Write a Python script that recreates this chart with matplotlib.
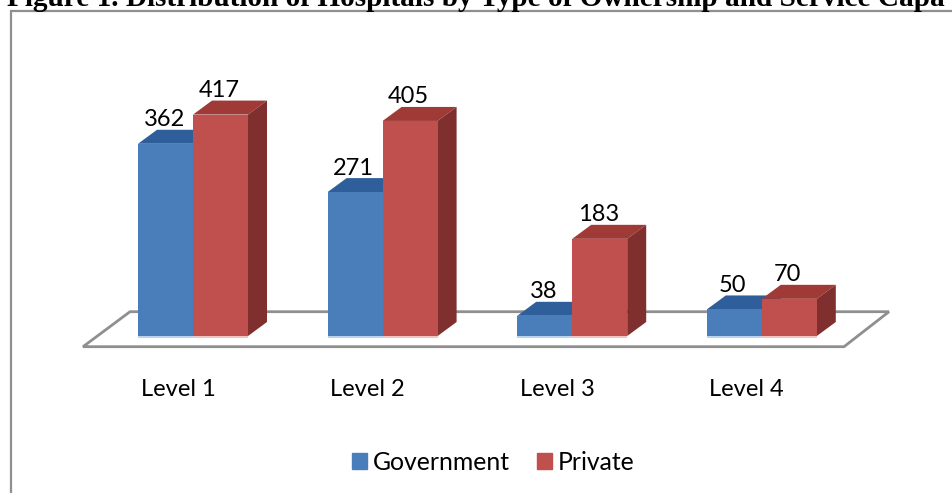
import matplotlib
matplotlib.use("Agg")
import matplotlib.pyplot as plt
from matplotlib.patches import Polygon, Patch
from matplotlib.lines import Line2D
from matplotlib.transforms import ScaledTranslation
import numpy as np

categories = ["Level 1", "Level 2", "Level 3", "Level 4"]
government = [362, 271, 38, 50]
private = [417, 405, 183, 70]
series_names = ["Government", "Private"]

W, H = 952, 493
PX_UNIT = 0.531      # pixels per value unit
PX_CAT = 189.6       # pixels per category
X0 = 193.0           # pixel x of first category centre
Y0 = 336.0           # pixel y of value zero
BAR_W = 55 / PX_CAT
DX = 19 / PX_CAT
DY = 14 / PX_UNIT

BLUE, BLUE_TOP = "#4a7ebb", "#2f5f9b"
RED, RED_TOP, RED_SIDE = "#c0504d", "#9f3a37", "#7f2f2d"
GREY = "#8f8f8f"
FONT = ["Lato", "DejaVu Sans"]
FS = 17.0
FS_LEG = 17.8

plt.rcParams["font.family"] = FONT
fig = plt.figure(figsize=(W / 100, H / 100), dpi=100, facecolor="white")
ax = fig.add_axes([0, 1 - Y0 / H, 1, Y0 / H])
ax.set_xlim(-X0 / PX_CAT, (W - X0) / PX_CAT)
ax.set_ylim(0, Y0 / PX_UNIT)
for s in ax.spines.values():
    s.set_visible(False)
ax.yaxis.set_visible(False)
ax.patch.set_visible(False)

# floor outline
fl, fr = -110 / PX_CAT, 651 / PX_CAT
bl, br = -63 / PX_CAT, 696 / PX_CAT
yf, yb = -10.7 / PX_UNIT, 24.3 / PX_UNIT
ax.add_patch(Polygon([(fl, yf), (fr, yf), (br, yb), (bl, yb)], closed=True,
                     fc="white", ec=GREY, lw=2.0, joinstyle="miter",
                     clip_on=False, zorder=1))

x = np.arange(len(categories))
for xs, vals, col, top, side, glow, z in [
    (x - BAR_W / 2, government, BLUE, BLUE_TOP, "#2f5f9b", "#a9cdee", 2),
    (x + BAR_W / 2, private, RED, RED_TOP, RED_SIDE, "#f0b8b4", 3),
]:
    for xc, v in zip(xs, vals):
        l, r = xc - BAR_W / 2, xc + BAR_W / 2
        ax.add_patch(Polygon([(l, v), (r, v), (r + DX, v + DY), (l + DX, v + DY)],
                             closed=True, fc=top, ec="none", zorder=z))
        ax.add_patch(Polygon([(r, 0), (r + DX, DY), (r + DX, v + DY), (r, v)],
                             closed=True, fc=side, ec="none", zorder=z))
    ax.bar(xs, vals, width=BAR_W, color=col, zorder=z + 0.5, clip_on=False)
    ax.hlines([-1.5] * len(xs), xs - BAR_W / 2, xs + BAR_W / 2, color=glow, lw=1.2,
              zorder=z + 0.6, clip_on=False)
    for xc, v in zip(xs, vals):
        ax.annotate(str(v), (xc, v), xytext=(-1, 24 * 0.72), textcoords="offset points",
                    ha="center", va="center", fontsize=FS, color="black", zorder=6)

ax.set_xticks(x)
ax.set_xticklabels(categories, fontsize=FS)
ax.tick_params(axis="x", length=0, pad=31.2)
shift = ScaledTranslation(-15 / 100, 0, fig.dpi_scale_trans)
for lab in ax.get_xticklabels():
    lab.set_transform(lab.get_transform() + shift)

# chart frame (runs off the page on the right and bottom)
fig.add_artist(Line2D([11 / W, 11 / W, 1], [0, 1 - 11 / H, 1 - 11 / H],
                      color=GREY, lw=1.6, solid_joinstyle="miter"))

leg = ax.legend(handles=[Patch(color=BLUE, label=series_names[0]),
                         Patch(color=RED, label=series_names[1])],
                loc="center", bbox_to_anchor=(493 / W, 1 - 462 / H),
                bbox_transform=fig.transFigure, ncol=2, frameon=False, fontsize=FS_LEG,
                handlelength=0.61, handleheight=0.61, handletextpad=0.24,
                columnspacing=1.09, borderpad=0, labelspacing=0)

fig.text(7 / W, 1 - 6.5 / H,
         "Figure 1. Distribution of Hospitals by Type of Ownership and Service Capa",
         family=["Liberation Serif"], weight="bold", fontsize=21.1, color="black",
         ha="left", va="baseline")

fig.savefig("out.png", dpi=100, facecolor="white")
